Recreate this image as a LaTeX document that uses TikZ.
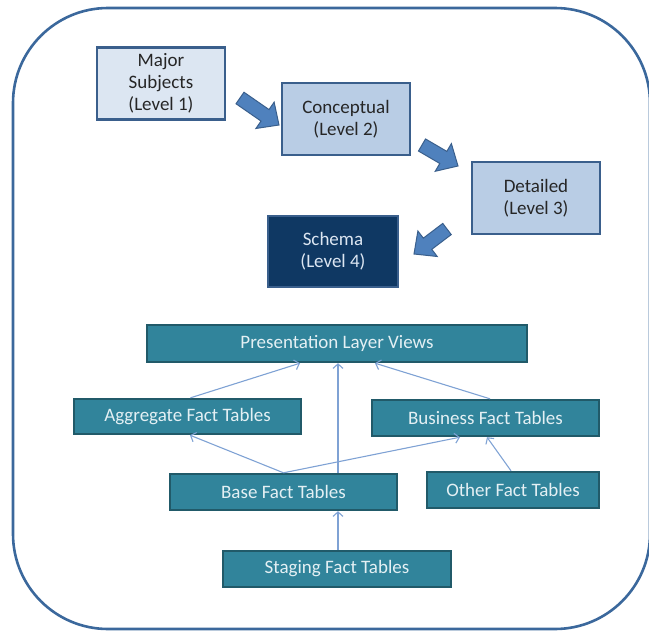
\documentclass[tikz,border=0pt]{standalone}
\usepackage{fontspec}
\setmainfont{Carlito}
\usetikzlibrary{calc,arrows.meta}
\definecolor{frameblue}{HTML}{3B689C}
\definecolor{lightfill}{HTML}{DCE6F2}
\definecolor{midfill}{HTML}{B9CDE5}
\definecolor{boxborder}{HTML}{3A5F8C}
\definecolor{navy}{HTML}{0F3863}
\definecolor{navytext}{HTML}{DCE6F2}
\definecolor{teal}{HTML}{31849B}
\definecolor{tealborder}{HTML}{215A69}
\definecolor{tealtext}{HTML}{E4F0F4}
\definecolor{arrowfill}{HTML}{4F81BD}
\definecolor{connblue}{HTML}{7FA2D4}
\definecolor{darktext}{HTML}{262626}
\tikzset{
  lvlbox/.style={draw=boxborder, line width=2.4pt, minimum width=128pt, minimum height=72pt,
    align=center, text=darktext, font=\fontsize{19}{22}\selectfont, inner sep=2pt},
  tealbox/.style={draw=tealborder, fill=teal, line width=2.4pt, minimum height=36pt,
    text=tealtext, font=\fontsize{19}{22}\selectfont, inner sep=2pt},
  blockarrow/.style={draw=boxborder, fill=arrowfill, line width=1pt, line join=miter},
  conn/.style={draw=connblue, line width=1.1pt, -{Straight Barb[length=4.5pt,width=10pt]}}
}
\newcommand{\myblockarrow}[2]{%
  \path ($(#2)!17pt!(#1)$) coordinate (hb);
  \draw[blockarrow] ($(#1)!7pt!90:(#2)$) -- ($(hb)!7pt!-90:(#1)$) -- ($(hb)!16pt!-90:(#1)$)
    -- (#2) -- ($(hb)!16pt!90:(#1)$) -- ($(hb)!7pt!90:(#1)$) -- ($(#1)!7pt!-90:(#2)$) -- cycle;}
\begin{document}
\begin{tikzpicture}[x=1pt,y=-1pt]
\useasboundingbox (0,0) rectangle (649,632);
\draw[frameblue, line width=2.6pt, rounded corners=95pt] (13,8) rectangle (650,629);

\node[lvlbox, fill=lightfill] (major) at (161,83.5) {Major\\Subjects\\(Level 1)};
\node[lvlbox, fill=midfill] (concept) at (346,119) {Conceptual\\(Level 2)};
\node[lvlbox, fill=midfill] (detail) at (536,198) {Detailed\\(Level 3)};
\node[lvlbox, fill=navy, minimum width=130pt, minimum height=71pt, text=navytext] (schema) at (333,251.5) {Schema\\(Level 4)};

\coordinate (a1t) at (240,98);  \coordinate (a1h) at (279,125);
\coordinate (a2t) at (422,145); \coordinate (a2h) at (458,166);
\coordinate (a3t) at (447,229); \coordinate (a3h) at (414,254);
\myblockarrow{a1t}{a1h}
\myblockarrow{a2t}{a2h}
\myblockarrow{a3t}{a3h}

\node[tealbox, minimum width=380pt, minimum height=37pt] (pres) at (337,343.5) {Presentation Layer Views};
\node[tealbox, minimum width=227pt, minimum height=35pt] (agg) at (187.5,416.5) {Aggregate Fact Tables};
\node[tealbox, minimum width=227pt] (bus) at (485.5,418) {Business Fact Tables};
\node[tealbox, minimum width=227pt] (base) at (283.5,492) {Base Fact Tables};
\node[tealbox, minimum width=172pt] (other) at (513,490) {Other Fact Tables};
\node[tealbox, minimum width=228pt] (stag) at (337,569) {Staging Fact Tables};

\draw[conn] ([xshift=3pt]agg.north) -- ([xshift=-37pt]pres.south);
\draw[conn] ([xshift=54.5pt]base.north) -- ([xshift=1pt]pres.south);
\draw[conn] ([xshift=4.5pt]bus.north) -- ([xshift=38pt]pres.south);
\draw[conn] (base.north) -- ([xshift=2.5pt]agg.south);
\draw[conn] (base.north) -- ([xshift=-25.5pt]bus.south);
\draw[conn] ([xshift=-2pt]other.north) -- ([xshift=1.5pt]bus.south);
\draw[conn] ([xshift=1pt]stag.north) -- ([xshift=54.5pt]base.south);
\end{tikzpicture}
\end{document}
